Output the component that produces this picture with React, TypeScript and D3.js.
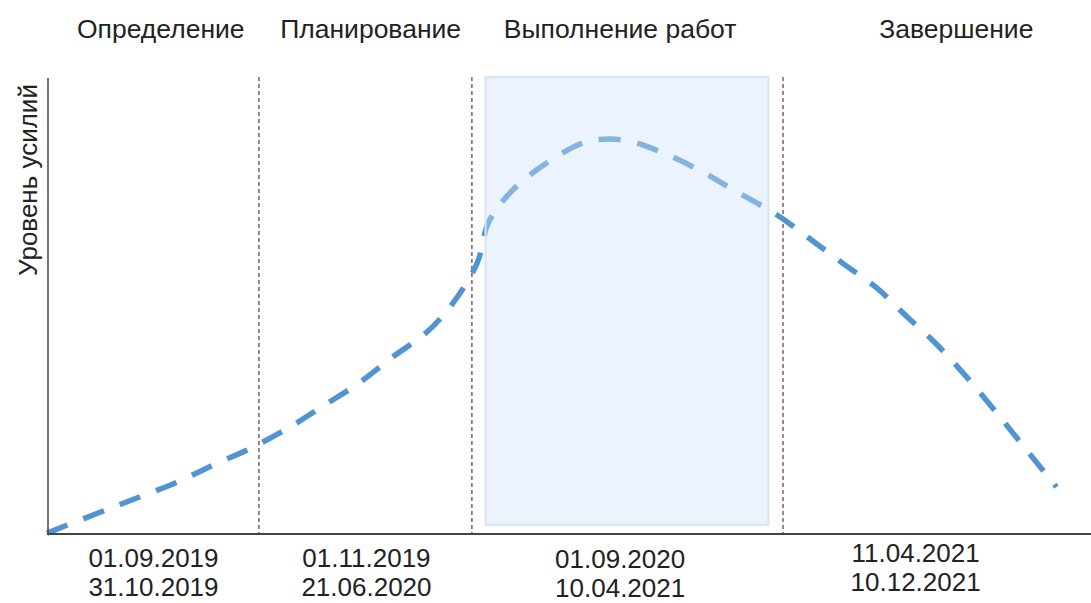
import React from "react";
import * as d3 from "d3";

const phases = ["Определение", "Планирование", "Выполнение работ", "Завершение"];
const phaseLabelX = [10.9, 31.0, 54.9, 87.1];
const startDates = ["01.09.2019", "01.11.2019", "01.09.2020", "11.04.2021"];
const endDates = ["31.10.2019", "21.06.2020", "10.04.2021", "10.12.2021"];
const dateLabelX = [10.2, 30.6, 54.9, 83.2];
const dateShift = [0, 0, 1, -5];
const boundaries = [20.3, 40.7, 70.5];
const highlight = { x0: 42.0, x1: 69.1, y0: 2.0, y1: 100.2 };

const effortX = [0, 4.9, 8.6, 12.5, 15.9, 19.6, 23.3, 26.6, 30.0, 33.1, 36.4, 38.9, 41.2, 42.3, 44.6, 47.9, 51.7, 55.2, 59.0, 62.8, 66.1, 69.9, 73.1, 76.2, 79.5, 82.4, 85.3, 88.1, 90.6, 93.2, 96.7];
const effortY = [0.2, 4.6, 7.9, 11.4, 15.1, 18.9, 23.5, 28.3, 33.3, 38.8, 44.3, 50.7, 59.4, 68.4, 75.4, 81.4, 86.0, 86.4, 83.6, 79.4, 75.0, 70.0, 64.7, 59.4, 53.9, 47.6, 41.4, 34.4, 27.6, 20.2, 10.3];

const W = 1091;
const H = 603;
const left = 47;
const right = 1091;
const top = 78;
const bottom = 534;

export default function App() {
  const x = d3.scaleLinear().domain([0, 100]).range([left, right]);
  const y = d3.scaleLinear().domain([0, 100]).range([bottom, top]);
  const pts: [number, number][] = effortX.map((v, i) => [v, effortY[i]]);
  const line = d3
    .line<[number, number]>()
    .x((d) => x(d[0]))
    .y((d) => y(d[1]))
    .curve(d3.curveCatmullRom.alpha(0.5));
  const font = "'Liberation Sans', Arial, sans-serif";
  return (
    <svg
      width={W}
      height={H}
      style={{ position: "absolute", left: 0, top: 0, display: "block", background: "#fff" }}
      fontFamily={font}
    >
      {phases.map((p, i) => (
        <text key={p} x={x(phaseLabelX[i])} y={38} textAnchor="middle" fontSize={26.5} fill="#222">
          {p}
        </text>
      ))}
      <text
        transform={`translate(37, ${180}) rotate(-90)`}
        textAnchor="middle"
        fontSize={26}
        fill="#222"
      >
        Уровень усилий
      </text>
      {boundaries.map((b) => (
        <line
          key={b}
          x1={x(b)}
          x2={x(b)}
          y1={y(100.2)}
          y2={y(0)}
          stroke="#444"
          strokeWidth={1.2}
          strokeDasharray="4 3"
        />
      ))}
      <path
        d={line(pts) || ""}
        fill="none"
        stroke="#5294d2"
        strokeWidth={5.5}
        strokeDasharray="22 17"
      />
      <rect
        x={x(highlight.x0)}
        y={y(highlight.y1)}
        width={x(highlight.x1) - x(highlight.x0)}
        height={y(highlight.y0) - y(highlight.y1)}
        fill="rgb(205,225,248)"
        fillOpacity={0.4}
        stroke="#d6e4f4"
        strokeWidth={2}
      />
      <line x1={x(0) + 1} x2={x(0) + 1} y1={top} y2={bottom} stroke="#444" strokeWidth={1.5} />
      <line x1={left} x2={right} y1={bottom} y2={bottom} stroke="#444" strokeWidth={2} />
      {startDates.map((d, i) => (
        <g key={d}>
          <text x={x(dateLabelX[i])} y={567 + dateShift[i]} textAnchor="middle" fontSize={26} fill="#222">
            {d}
          </text>
          <text x={x(dateLabelX[i])} y={596 + dateShift[i]} textAnchor="middle" fontSize={26} fill="#222">
            {endDates[i]}
          </text>
        </g>
      ))}
    </svg>
  );
}
